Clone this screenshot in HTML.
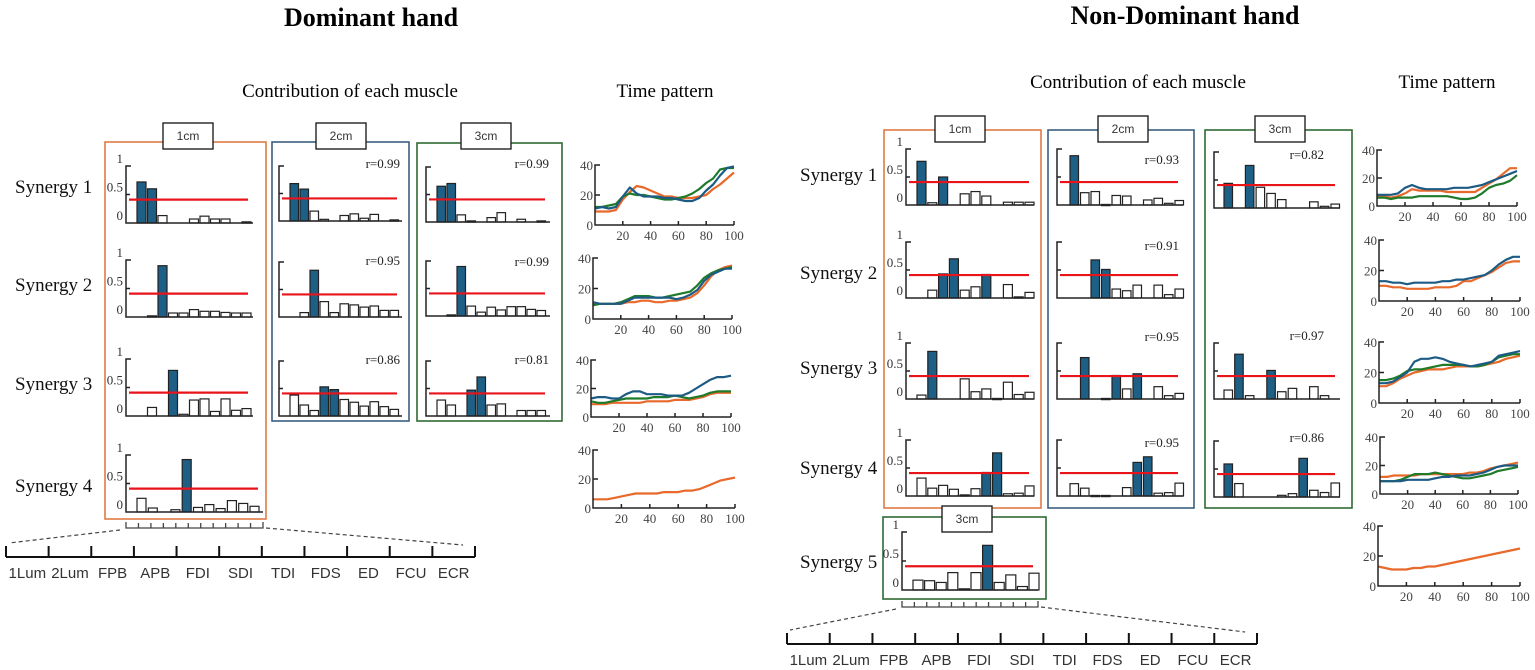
<!DOCTYPE html>
<html><head><meta charset="utf-8">
<style>
html,body{margin:0;padding:0;background:#fff;}
svg{display:block;}
.serif{font-family:"Liberation Serif",serif;}
.sans{font-family:"Liberation Sans",sans-serif;}
</style></head>
<body>
<svg id="fig" width="1535" height="670" viewBox="0 0 1535 670" xmlns="http://www.w3.org/2000/svg">
<text x="371" y="26" text-anchor="middle" class="serif" font-size="26" font-weight="bold">Dominant hand</text>
<text x="350" y="97" text-anchor="middle" class="serif" font-size="19">Contribution of each muscle</text>
<text x="665" y="97" text-anchor="middle" class="serif" font-size="19">Time pattern</text>
<text x="1185" y="24" text-anchor="middle" class="serif" font-size="26" font-weight="bold">Non-Dominant hand</text>
<text x="1138" y="88" text-anchor="middle" class="serif" font-size="19">Contribution of each muscle</text>
<text x="1447" y="88" text-anchor="middle" class="serif" font-size="19">Time pattern</text>
<g id="layer"></g>
</svg>
<script>
// ---------- muscle names ----------
const muscles = ["1Lum","2Lum","FPB","APB","FDI","SDI","TDI","FDS","ED","FCU","ECR"];
const threshold = 0.41;
// ---------- Dominant bar data ----------
const domS1_1cm = [0.72,0.6,0.13,0,0,0.07,0.12,0.07,0.07,0,0.02];
const domS2_1cm = [0,0.02,0.9,0.07,0.07,0.13,0.1,0.1,0.08,0.07,0.07];
const domS3_1cm = [0,0.15,0,0.8,0.03,0.28,0.3,0.08,0.3,0.1,0.13];
const domS4_1cm = [0.24,0.07,0,0.04,0.92,0.08,0.13,0.06,0.2,0.15,0.1];
const domS1_2cm = [0.68,0.58,0.18,0.03,0,0.1,0.13,0.05,0.12,0,0.02];
const domS2_2cm = [0,0.08,0.85,0.28,0.08,0.24,0.22,0.18,0.2,0.12,0.12];
const domS3_2cm = [0.38,0.2,0.1,0.53,0.48,0.3,0.25,0.18,0.26,0.17,0.12];
const domS1_3cm = [0.65,0.7,0.13,0.02,0,0.08,0.17,0,0.05,0,0.02];
const domS2_3cm = [0,0.02,0.9,0.18,0.07,0.16,0.11,0.17,0.17,0.12,0.1];
const domS3_3cm = [0.29,0.2,0,0.47,0.71,0.2,0.22,0,0.1,0.1,0.1];
// ---------- Non-dominant bar data ----------
const ndS1_1cm = [0.78,0.04,0.5,0,0.2,0.24,0.16,0,0.05,0.05,0.05];
const ndS2_1cm = [0,0.14,0.43,0.7,0.14,0.2,0.42,0,0.24,0.02,0.1];
const ndS3_1cm = [0.07,0.85,0,0,0.36,0.13,0.18,0.01,0.3,0.08,0.12];
const ndS4_1cm = [0.32,0.14,0.19,0.12,0.02,0.13,0.42,0.77,0.04,0.05,0.18];
const ndS1_2cm = [0.88,0.22,0.24,0.01,0.17,0.16,0,0.09,0.12,0.03,0.08];
const ndS2_2cm = [0,0,0.68,0.51,0.16,0.13,0.23,0,0.23,0.06,0.16];
const ndS3_2cm = [0,0.74,0,0.01,0.42,0.18,0.45,0,0.22,0.06,0.1];
const ndS4_2cm = [0.22,0.14,0.01,0.01,0,0.15,0.6,0.7,0.05,0.06,0.23];
const ndS1_3cm = [0.44,0,0.76,0.37,0.26,0.15,0,0,0.11,0.03,0.07];
const ndS3_3cm = [0.16,0.8,0.06,0,0.51,0.13,0.19,0,0.22,0.06,0];
const ndS4_3cm = [0.59,0.24,0,0,0,0.03,0.06,0.69,0.12,0.08,0.25];
const ndS5_3cm = [0.17,0.16,0.13,0.3,0.02,0.3,0.77,0.13,0.26,0.06,0.29];
// ---------- Time pattern data (x = 0..100 step 5) ----------
const timeX = [0,5,10,15,20,25,30,35,40,45,50,55,60,65,70,75,80,85,90,95,100];
const xTicks = [20,40,60,80,100];
const yTicks = [0,20,40];
const dT1o = [9,9,9,10,17,22,26,25,23,21,19,19,18,18,18,19,20,24,27,31,35];
const dT1g = [12,12,13,14,19,21,20,20,19,18,17,17,18,19,21,24,28,31,37,38,38];
const dT1b = [11,12,11,12,19,25,21,19,19,19,18,18,17,16,16,18,23,27,33,38,39];
const dT2o = [10,10,10,10,10,11,11,12,12,11,11,12,12,13,14,17,22,28,32,34,35];
const dT2g = [9,10,10,10,11,13,15,15,15,14,14,15,16,17,18,22,27,30,32,33,34];
const dT2b = [11,10,10,10,10,12,14,14,14,14,14,14,13,14,16,19,25,29,31,33,33];
const dT3o = [9,9,9,10,10,10,10,10,11,11,11,11,12,12,12,13,14,16,17,17,17];
const dT3g = [11,10,10,11,12,13,13,13,13,14,14,14,15,14,13,14,15,17,18,18,18];
const dT3b = [13,14,14,13,13,16,18,18,16,16,16,15,15,15,17,20,23,26,28,28,29];
const dT4o = [6,6,6,7,8,9,10,10,10,10,11,11,11,12,12,13,15,17,19,20,21];
const nT1o = [7,7,6,7,9,12,11,11,11,11,10,10,10,10,10,13,16,19,23,27,27];
const nT1g = [6,6,5,6,6,6,7,7,7,7,7,6,5,5,6,9,13,15,16,18,22];
const nT1b = [8,8,8,9,13,15,13,12,12,12,12,13,13,13,14,15,17,19,21,23,25];
const nT2o = [10,10,9,9,8,8,8,8,9,9,9,10,13,13,15,17,19,22,25,26,26];
const nT2b = [13,13,12,12,11,12,12,12,12,13,13,14,14,15,16,17,20,24,27,29,29];
const nT3o = [11,11,13,16,18,20,21,22,22,22,23,24,24,24,24,25,26,27,29,30,31];
const nT3g = [15,15,16,18,21,22,22,23,24,25,25,25,25,24,24,25,27,30,31,32,32];
const nT3b = [13,13,14,17,20,27,29,29,30,29,27,26,25,24,25,26,27,31,32,33,34];
const nT4o = [12,12,13,13,13,13,14,14,14,14,14,14,14,15,15,16,18,19,20,21,22];
const nT4g = [9,9,9,10,12,14,14,14,15,14,13,12,11,11,12,13,14,16,17,18,19];
const nT4b = [9,9,9,9,10,10,10,10,11,12,12,13,13,13,14,15,17,19,20,20,20];
const nT5o = [13,12,11,11,11,12,12,13,13,14,15,16,17,18,19,20,21,22,23,24,25];

const NS="http://www.w3.org/2000/svg";
const layer=document.getElementById('layer');
function mk(tag,attrs,parent){const e=document.createElementNS(NS,tag);for(const k in attrs)e.setAttribute(k,attrs[k]);(parent||layer).appendChild(e);return e;}
const C_OR="#e8692a",C_GR="#1f7a2a",C_BL="#1d5b85",BAR_BL="#1e5f86";

// ---------- panel boxes ----------
function panel(x,y,w,h,color,lx,ly,label,name){
  const g=mk('g',{});
  
  
  const r=mk('rect',{x:x,y:y,width:w,height:h,fill:'none',stroke:color,'stroke-width':1.6},g);
  
  
  const lb=mk('rect',{x:lx,y:ly,width:50,height:26,fill:'#fff',stroke:'#222','stroke-width':1.4},g);
  
  
  const t=mk('text',{x:lx+25,y:ly+17,'text-anchor':'middle','font-size':12,fill:'#333',class:'sans'},g);
  t.textContent=label;
  
  
}
panel(105,142,161,377,"#e07b45",163,123,"1cm","dominant-1cm-panel");
panel(272,142,137,279,"#3a5f80",316,123,"2cm","dominant-2cm-panel");
panel(417,143,145,278,"#2e6b34",461,123,"3cm","dominant-3cm-panel");
panel(884,130,157,378,"#e07b45",935,116,"1cm","nondominant-1cm-panel");
panel(1048,130,146,378,"#3a5f80",1098,116,"2cm","nondominant-2cm-panel");
panel(1205,130,147,378,"#2e6b34",1255,116,"3cm","nondominant-3cm-panel");
panel(883,517,163,82,"#2e6b34",942,506,"3cm","nondominant-synergy5-panel");

// ---------- bar charts ----------
function barChart(vals,cfg){
  const g=mk('g',{});
  
  
  const yv=v=>cfg.base-v*cfg.unit;
  const xs=i=>cfg.slot0+i*cfg.step;
  vals.forEach((v,i)=>{
    if(v<=0)return;
    const b=mk('rect',{x:xs(i),y:yv(v),width:cfg.bw,height:Math.max(cfg.base-yv(v),1.2),fill:v>threshold?BAR_BL:'#fff',stroke:'#222','stroke-width':1.2},g);
    
    
  });
  const ax=mk('path',{d:`M${cfg.ax+5},${yv(1)} H${cfg.ax} V${cfg.base} H${cfg.end} M${cfg.ax},${yv(0.5)} H${cfg.ax+4}`,fill:'none',stroke:'#222','stroke-width':1.5},g);
  
  
  const rl=mk('line',{x1:cfg.ax+3,x2:cfg.end-5,y1:yv(threshold),y2:yv(threshold),stroke:'#e8141a','stroke-width':2.2},g);
  
  
  if(cfg.labels){
    [[1,'1'],[0.5,'0.5'],[0,'0']].forEach(([v,s])=>{
      const t=mk('text',{x:cfg.ax-3,y:yv(v)-3,'text-anchor':'end','font-size':13,fill:'#333',class:'serif'},g);
      t.textContent=s;
      
      
    });
  }
  if(cfg.r){
    const t=mk('text',{x:cfg.rx,y:cfg.ry,'text-anchor':'end','font-size':13,fill:'#222',class:'serif'},g);
    t.textContent=cfg.r;
    
    
  }
}
const D1={ax:126,slot0:137,step:10.5,bw:9,end:253,unit:57,labels:true};
barChart(domS1_1cm,{...D1,base:223,name:'dominant-synergy1-1cm'});
barChart(domS2_1cm,{...D1,base:317,name:'dominant-synergy2-1cm'});
barChart(domS3_1cm,{...D1,base:416,name:'dominant-synergy3-1cm'});
barChart(domS4_1cm,{...D1,base:512,step:11.3,end:263,name:'dominant-synergy4-1cm'});
const D2={ax:279,slot0:290,step:10,bw:8.5,end:402,unit:55,labels:false,rx:400};
barChart(domS1_2cm,{...D2,base:221,r:'r=0.99',ry:168,name:'dominant-synergy1-2cm'});
barChart(domS2_2cm,{...D2,base:317,r:'r=0.95',ry:265,name:'dominant-synergy2-2cm'});
barChart(domS3_2cm,{...D2,base:416,r:'r=0.86',ry:364,name:'dominant-synergy3-2cm'});
const D3={ax:426,slot0:437,step:10,bw:8.5,end:550,unit:55,labels:false,rx:549};
barChart(domS1_3cm,{...D3,base:222,r:'r=0.99',ry:168,name:'dominant-synergy1-3cm'});
barChart(domS2_3cm,{...D3,base:316,r:'r=0.99',ry:266,name:'dominant-synergy2-3cm'});
barChart(domS3_3cm,{...D3,base:416,r:'r=0.81',ry:364,name:'dominant-synergy3-3cm'});
const N1={ax:906,slot0:917,step:10.8,bw:9,end:1034,unit:56,labels:true};
barChart(ndS1_1cm,{...N1,base:205,name:'nondominant-synergy1-1cm'});
barChart(ndS2_1cm,{...N1,base:298,name:'nondominant-synergy2-1cm'});
barChart(ndS3_1cm,{...N1,base:399,name:'nondominant-synergy3-1cm'});
barChart(ndS4_1cm,{...N1,base:496,name:'nondominant-synergy4-1cm'});
const N2={ax:1057,slot0:1070,step:10.5,bw:8.5,end:1183,unit:56,labels:false,rx:1179};
barChart(ndS1_2cm,{...N2,base:205,r:'r=0.93',ry:164,name:'nondominant-synergy1-2cm'});
barChart(ndS2_2cm,{...N2,base:298,r:'r=0.91',ry:250,name:'nondominant-synergy2-2cm'});
barChart(ndS3_2cm,{...N2,base:399,r:'r=0.95',ry:341,name:'nondominant-synergy3-2cm'});
barChart(ndS4_2cm,{...N2,base:496,r:'r=0.95',ry:447,name:'nondominant-synergy4-2cm'});
const N3={ax:1214,slot0:1224,step:10.7,bw:8.5,end:1340,unit:56,labels:false,rx:1324};
barChart(ndS1_3cm,{...N3,base:208,r:'r=0.82',ry:159,name:'nondominant-synergy1-3cm'});
barChart(ndS3_3cm,{...N3,base:399,r:'r=0.97',ry:340,name:'nondominant-synergy3-3cm'});
barChart(ndS4_3cm,{...N3,base:497,r:'r=0.86',ry:442,name:'nondominant-synergy4-3cm'});
barChart(ndS5_3cm,{ax:902,slot0:913,step:11.6,bw:10,end:1038,unit:58,labels:true,base:590,name:'nondominant-synergy5-3cm'});

// ---------- synergy labels ----------
function synLabel(x,y,s){
  const t=mk('text',{x:x,y:y,'font-size':19,fill:'#111',class:'serif'});
  t.textContent=s;
  
  
}
[[193,'Synergy 1'],[291,'Synergy 2'],[390,'Synergy 3'],[492,'Synergy 4']].forEach(([y,s])=>synLabel(15,y,s));
[[181,'Synergy 1'],[279,'Synergy 2'],[374,'Synergy 3'],[474,'Synergy 4'],[568,'Synergy 5']].forEach(([y,s])=>synLabel(800,y,s));

// ---------- time pattern charts ----------
function timeChart(series,cfg){
  const g=mk('g',{});
  
  
  const sx=v=>cfg.x0+(cfg.x1-cfg.x0)*v/100;
  const sy=v=>cfg.base-(cfg.base-cfg.top)*v/40;
  series.forEach(([vals,col,nm])=>{
    const d=vals.map((v,i)=>(i?'L':'M')+sx(timeX[i]).toFixed(1)+','+sy(v).toFixed(1)).join(' ');
    const p=mk('path',{d:d,fill:'none',stroke:col,'stroke-width':2.2,'stroke-linejoin':'round'},g);
    
    
  });
  const ax=mk('path',{d:`M${cfg.x0+5},${sy(40)} H${cfg.x0} V${cfg.base} H${cfg.x1} M${cfg.x0},${sy(20)} H${cfg.x0+5}`+xTicks.map(v=>` M${sx(v)},${cfg.base} V${cfg.base-4}`).join(''),fill:'none',stroke:'#222','stroke-width':1.5},g);
  
  
  yTicks.forEach(v=>{
    const t=mk('text',{x:cfg.x0-2,y:sy(v)+5,'text-anchor':'end','font-size':13,fill:'#444',class:'serif'},g);
    t.textContent=v;
    
    
  });
  xTicks.forEach(v=>{
    const t=mk('text',{x:sx(v),y:cfg.base+15,'text-anchor':'middle','font-size':13,fill:'#444',class:'serif'},g);
    t.textContent=v;
    
    
  });
}
timeChart([[dT1o,C_OR,'line-1cm'],[dT1g,C_GR,'line-3cm'],[dT1b,C_BL,'line-2cm']],{x0:595,x1:734,base:225,top:165,name:'dominant-time-synergy1'});
timeChart([[dT2o,C_OR,'line-1cm'],[dT2g,C_GR,'line-3cm'],[dT2b,C_BL,'line-2cm']],{x0:593,x1:732,base:319,top:258,name:'dominant-time-synergy2'});
timeChart([[dT3o,C_OR,'line-1cm'],[dT3g,C_GR,'line-3cm'],[dT3b,C_BL,'line-2cm']],{x0:591,x1:731,base:417,top:360,name:'dominant-time-synergy3'});
timeChart([[dT4o,C_OR,'line-1cm']],{x0:593,x1:735,base:508,top:450,name:'dominant-time-synergy4'});
timeChart([[nT1o,C_OR,'line-1cm'],[nT1g,C_GR,'line-3cm'],[nT1b,C_BL,'line-2cm']],{x0:1377,x1:1517,base:206,top:150,name:'nondominant-time-synergy1'});
timeChart([[nT2o,C_OR,'line-1cm'],[nT2b,C_BL,'line-2cm']],{x0:1379,x1:1520,base:301,top:240,name:'nondominant-time-synergy2'});
timeChart([[nT3o,C_OR,'line-1cm'],[nT3g,C_GR,'line-3cm'],[nT3b,C_BL,'line-2cm']],{x0:1379,x1:1520,base:403,top:342,name:'nondominant-time-synergy3'});
timeChart([[nT4o,C_OR,'line-1cm'],[nT4g,C_GR,'line-3cm'],[nT4b,C_BL,'line-2cm']],{x0:1380,x1:1518,base:494,top:437,name:'nondominant-time-synergy4'});
timeChart([[nT5o,C_OR,'line-1cm']],{x0:1378,x1:1520,base:586,top:526,name:'nondominant-time-synergy5'});

// ---------- muscle legend axes ----------
function muscleAxis(cfg){
  const g=mk('g',{});
  
  
  // bracket below panel
  const n=12, bw=(cfg.b1-cfg.b0)/(n-1);
  let d=`M${cfg.b0},${cfg.by-6} V${cfg.by} H${cfg.b1} V${cfg.by-6}`;
  for(let i=1;i<n-1;i++)d+=` M${cfg.b0+i*bw},${cfg.by} V${cfg.by-5}`;
  const br=mk('path',{d:d,fill:'none',stroke:'#444','stroke-width':1.3},g);
  
  
  const ds=mk('path',{d:`M${cfg.b0-6},${cfg.by+2} L${cfg.x0+3},${cfg.y-14} M${cfg.b1+3},${cfg.by} L${cfg.x1-12},${cfg.y-12}`,fill:'none',stroke:'#444','stroke-width':1.2,'stroke-dasharray':'4,3'},g);
  
  
  const step=(cfg.x1-cfg.x0)/11;
  let a=`M${cfg.x0},${cfg.y} H${cfg.x1}`;
  for(let i=0;i<=11;i++)a+=` M${cfg.x0+i*step},${cfg.y} V${cfg.y-11}`;
  const ax=mk('path',{d:a,fill:'none',stroke:'#111','stroke-width':2},g);
  
  
  muscles.forEach((m,i)=>{
    const t=mk('text',{x:cfg.x0+(i+0.5)*step,y:cfg.y+21,'text-anchor':'middle','font-size':15,fill:'#333',class:'sans'},g);
    t.textContent=m;
    
    
  });
}
muscleAxis({x0:6,x1:475,y:557,b0:126,b1:263,by:528,name:'dominant-muscle-axis'});
muscleAxis({x0:787,x1:1257,y:644,b0:902,b1:1038,by:607,name:'nondominant-muscle-axis'});
</script>
</body></html>
